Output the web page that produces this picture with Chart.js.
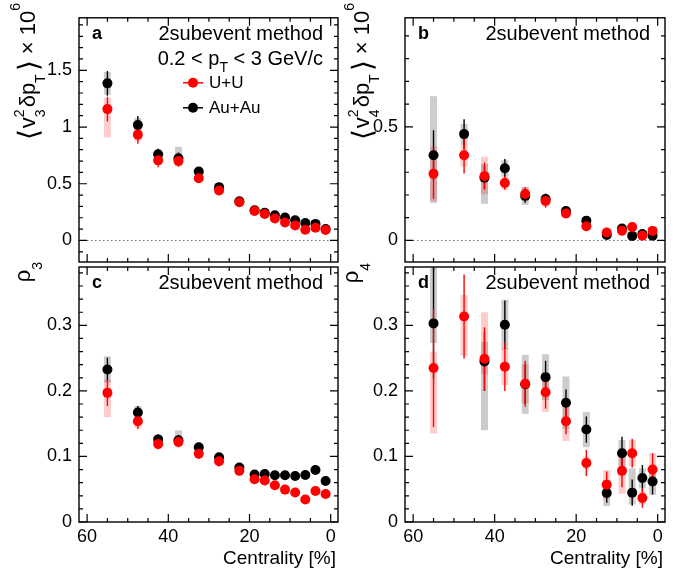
<!DOCTYPE html>
<html>
<head>
<meta charset="utf-8">
<script src="https://cdn.jsdelivr.net/npm/chart.js@4/dist/chart.umd.min.js"></script>
<style>
  html, body { margin: 0; padding: 0; background: #fff; }
  #wrap { position: relative; width: 691px; height: 571px; }
  #wrap canvas { position: absolute; left: 0; top: 0; }
</style>
</head>
<body>
<div id="wrap">
  <canvas id="pa" width="691" height="571"></canvas>
  <canvas id="pb" width="691" height="571"></canvas>
  <canvas id="pc" width="691" height="571"></canvas>
  <canvas id="pd" width="691" height="571"></canvas>
</div>
<script>
// centrality bin centres [%]
const cent15 = [55, 47.5, 42.5, 37.5, 32.5, 27.5, 22.5, 18.75, 16.25, 13.75, 11.25, 8.75, 6.25, 3.75, 1.25];
const cent13 = [55, 47.5, 42.5, 37.5, 32.5, 27.5, 22.5, 17.5, 12.5, 8.75, 6.25, 3.75, 1.25];
const xTickLabels = [0, 20, 40, 60];

// (a) <v3^2 dpT> x 10^6
const uuA = [1.158, 0.933, 0.706, 0.700, 0.548, 0.441, 0.337, 0.259, 0.233, 0.194, 0.158, 0.132, 0.095, 0.112, 0.093];
const uuStatA = [0.11, 0.08, 0.06, 0.05, 0.04, 0.04, 0.03, 0.02, 0.02, 0.02, 0.02, 0.02, 0.02, 0.02, 0.02];
const uuSysA = [[0.25, 0.1], 0.06, 0.04, 0.04, 0.03, 0.03, 0.02, 0.015, 0.015, 0.015, 0.015, 0.015, 0.015, 0.015, 0.015];
const auA = [1.385, 1.018, 0.759, 0.725, 0.607, 0.470, 0.346, 0.267, 0.245, 0.222, 0.202, 0.177, 0.154, 0.146, 0.100];
const auStatA = [0.11, 0.08, 0.05, 0.05, 0.04, 0.03, 0.02, 0.02, 0.02, 0.015, 0.015, 0.015, 0.015, 0.015, 0.015];
const auSysA = [0.1, 0.06, 0.04, [0.07, 0.1], 0.03, 0.03, 0.02, 0.015, 0.015, 0.015, 0.015, 0.015, 0.015, 0.015, 0.015];
const yTicksA = [0, 0.5, 1, 1.5];

// (b) <v4^2 dpT> x 10^6
const uuB = [0.293, 0.375, 0.283, 0.253, 0.204, 0.174, 0.119, 0.062, 0.035, 0.043, 0.059, 0.021, 0.042];
const uuStatB = [0.11, 0.08, 0.06, 0.03, 0.03, 0.03, 0.02, 0.015, 0.015, 0.015, 0.015, 0.01, 0.01];
const uuSysB = [0.12, 0.05, [0.08, 0.085], 0.03, 0.03, 0.025, 0.02, 0.015, 0.015, 0.01, 0.01, 0.01, 0.01];
const auB = [0.375, 0.468, 0.276, 0.318, 0.196, 0.182, 0.129, 0.087, 0.024, 0.052, 0.020, 0.028, 0.021];
const auStatB = [0.11, 0.065, 0.05, 0.04, 0.03, 0.025, 0.02, 0.015, 0.01, 0.01, 0.01, 0.01, 0.01];
const auSysB = [[0.21, 0.26], 0.045, [0.115, 0.06], 0.035, 0.04, 0.02, 0.02, 0.01, 0.01, 0.01, 0.01, 0.01, 0.01];
const yTicksB = [0, 0.5];

// (c) rho3
const uuC = [0.197, 0.1537, 0.119, 0.122, 0.104, 0.0927, 0.078, 0.0652, 0.0632, 0.056, 0.0494, 0.0449, 0.0342, 0.0473, 0.0428];
const uuStatC = [0.02, 0.012, 0.008, 0.008, 0.008, 0.008, 0.006, 0.005, 0.005, 0.005, 0.005, 0.005, 0.005, 0.005, 0.005];
const uuSysC = [[0.037, 0.02], 0.01, 0.008, 0.008, 0.006, 0.006, 0.005, 0.005, 0.005, 0.005, 0.005, 0.005, 0.005, 0.005, 0.005];
const auC = [0.2327, 0.167, 0.126, 0.1247, 0.114, 0.0988, 0.083, 0.0723, 0.0733, 0.0713, 0.0713, 0.0703, 0.0718, 0.0794, 0.0626];
const auStatC = [0.018, 0.01, 0.008, 0.008, 0.007, 0.006, 0.005, 0.005, 0.005, 0.005, 0.005, 0.005, 0.005, 0.005, 0.005];
const auSysC = [0.02, 0.01, 0.006, [0.006, 0.015], 0.005, 0.005, 0.004, 0.004, 0.004, 0.004, 0.004, 0.004, 0.004, 0.006, 0.004];
const yTicksCD = [0, 0.1, 0.2, 0.3];

// (d) rho4
const uuD = [0.235, 0.3135, 0.249, 0.237, 0.211, 0.198, 0.1537, 0.090, 0.057, 0.078, 0.105, 0.0367, 0.080];
const uuStatD = [0.09, 0.064, 0.048, 0.037, 0.035, 0.025, 0.02, 0.02, 0.02, 0.025, 0.022, 0.015, 0.025];
const uuSysD = [[0.1, 0.025], [0.06, 0.033], [0.024, 0.071], 0.028, 0.03, 0.03, 0.03, 0.01, 0.022, 0.035, 0.02, 0.01, 0.025];
const auD = [0.303, null, 0.245, 0.301, 0.210, 0.221, 0.182, 0.141, 0.0443, 0.105, 0.0448, 0.067, 0.0617];
const auStatD = [0.085, null, 0.045, 0.037, 0.03, 0.025, 0.02, 0.02, 0.015, 0.025, 0.02, 0.02, 0.02];
const auSysD = [[0.03, 0.1], null, [0.105, 0.03], 0.038, 0.045, 0.035, 0.04, 0.027, 0.02, 0.02, [0.018, 0.037], 0.015, 0.02];

const FONT = '"Liberation Sans", Arial, Helvetica, sans-serif';
const RED = '#ff0000';
const BLACK = '#000000';
const MARKER_R = 5;
const Y_AXIS_W = 60;
const X_AXIS_H = 40;

const pair = (e) => (Array.isArray(e) ? e : [e, e]);

// draws a run of text pieces (sub/superscripts) along a baseline; rot = -90 for axis titles
function richText(ctx, pieces, x, y, align, rot) {
  ctx.save();
  let total = 0;
  let held = 0;
  pieces.forEach((p) => {
    ctx.font = p.s + 'px ' + FONT;
    const w = ctx.measureText(p.t).width + (p.gap || 0);
    if (p.stack) { held = w; return; }
    total += Math.max(w, held);
    held = 0;
  });
  ctx.translate(x, y);
  if (rot) ctx.rotate((rot * Math.PI) / 180);
  let cx = align === 'right' ? -total : 0;
  held = 0;
  ctx.textBaseline = 'alphabetic';
  ctx.textAlign = 'left';
  ctx.fillStyle = '#000';
  pieces.forEach((p) => {
    ctx.font = p.s + 'px ' + FONT;
    const w = ctx.measureText(p.t).width + (p.gap || 0);
    ctx.fillText(p.t, cx, p.dy || 0);
    if (p.stack) { held = w; return; }
    cx += Math.max(w, held);
    held = 0;
  });
  ctx.restore();
}

// systematic boxes and statistical bars, drawn under the markers
const errorBars = {
  id: 'errorBars',
  beforeDatasetsDraw(chart) {
    const { ctx, chartArea: a, scales: { x, y } } = chart;
    ctx.save();
    ctx.beginPath();
    ctx.rect(a.left, a.top, a.right - a.left, a.bottom - a.top);
    ctx.clip();
    for (let i = chart.data.datasets.length - 1; i >= 0; i--) {
      const ds = chart.data.datasets[i];
      ds.data.forEach((p, j) => {
        if (p.y == null) return;
        const px = x.getPixelForValue(p.x);
        const [lo, hi] = pair(ds.sys[j]);
        const yTop = y.getPixelForValue(p.y + hi);
        const yBot = y.getPixelForValue(p.y - lo);
        ctx.fillStyle = ds.sysColor;
        ctx.fillRect(px - 3.5, yTop, 7, yBot - yTop);
        const st = ds.stat[j];
        ctx.strokeStyle = ds.backgroundColor;
        ctx.lineWidth = 1.4;
        ctx.beginPath();
        ctx.moveTo(px, y.getPixelForValue(p.y + st));
        ctx.lineTo(px, y.getPixelForValue(p.y - st));
        ctx.stroke();
      });
    }
    ctx.restore();
  },
};

// ROOT-style frame with inward ticks, panel labels, legend and axis titles
const frame = {
  id: 'frame',
  beforeDatasetsDraw(chart, args, o) {
    const { ctx, chartArea: a, scales: { y } } = chart;
    if (!o.zeroLine) return;
    ctx.save();
    ctx.strokeStyle = '#777';
    ctx.lineWidth = 1;
    ctx.setLineDash([1.5, 2.5]);
    ctx.beginPath();
    const y0 = Math.round(y.getPixelForValue(0)) + 0.5;
    ctx.moveTo(a.left, y0);
    ctx.lineTo(a.right, y0);
    ctx.stroke();
    ctx.restore();
  },
  afterDraw(chart, args, o) {
    const { ctx, chartArea: a, scales: { x, y } } = chart;
    ctx.save();
    ctx.strokeStyle = '#000';
    ctx.lineWidth = 1.4;
    ctx.strokeRect(a.left, a.top, a.right - a.left, a.bottom - a.top);
    ctx.lineWidth = 1.2;
    ctx.beginPath();
    for (let k = Math.ceil(y.min / o.yMinor); k * o.yMinor <= y.max; k++) {
      const v = k * o.yMinor;
      const major = Math.abs(v / o.yMajor - Math.round(v / o.yMajor)) < 1e-6;
      const len = major ? 8 : 4;
      const py = y.getPixelForValue(v);
      ctx.moveTo(a.left, py); ctx.lineTo(a.left + len, py);
      ctx.moveTo(a.right, py); ctx.lineTo(a.right - len, py);
    }
    for (let k = 0; k * 5 <= x.max; k++) {
      const v = k * 5;
      const len = v % 20 === 0 ? 8 : 4;
      const px = x.getPixelForValue(v);
      ctx.moveTo(px, a.bottom); ctx.lineTo(px, a.bottom - len);
      ctx.moveTo(px, a.top); ctx.lineTo(px, a.top + len);
    }
    ctx.stroke();

    ctx.fillStyle = '#000';
    ctx.textBaseline = 'alphabetic';
    ctx.font = 'bold 18px ' + FONT;
    ctx.textAlign = 'left';
    ctx.fillText(o.letter, a.left + 13, a.top + 21);
    ctx.font = '20px ' + FONT;
    ctx.textAlign = 'right';
    ctx.fillText('2subevent method', a.right - 15, a.top + 22);

    if (o.ptCut) {
      richText(ctx, [
        { t: '0.2 < p', s: 20 },
        { t: 'T', s: 14, dy: 7 },
        { t: ' < 3 GeV/c', s: 20 },
      ], a.right - 15, a.top + 47, 'right');
    }

    if (o.legend) {
      chart.data.datasets.forEach((ds, i) => {
        const ly = a.top + 65 + i * 25;
        const lx = a.left + 114;
        ctx.strokeStyle = ds.backgroundColor;
        ctx.lineWidth = 1.5;
        ctx.beginPath();
        ctx.moveTo(lx - 10, ly); ctx.lineTo(lx + 10, ly);
        ctx.stroke();
        ctx.fillStyle = ds.backgroundColor;
        ctx.beginPath();
        ctx.arc(lx, ly, MARKER_R, 0, Math.PI * 2);
        ctx.fill();
        ctx.fillStyle = '#000';
        ctx.font = '17px ' + FONT;
        ctx.textAlign = 'left';
        ctx.textBaseline = 'middle';
        ctx.fillText(ds.label, lx + 16, ly + 1);
      });
    }

    if (o.title) richText(ctx, o.title, o.titleX, o.titleEnd, 'right', -90);

    if (o.xTitle) {
      ctx.fillStyle = '#000';
      ctx.font = '19px ' + FONT;
      ctx.textAlign = 'right';
      ctx.textBaseline = 'alphabetic';
      ctx.fillText('Centrality [%]', a.right - 2, 564);
    }
    ctx.restore();
  },
};

const vTitle = (n) => [
  { t: '\u27E8', s: 28, dy: 3, gap: 1 },
  { t: 'v', s: 22 },
  { t: '2', s: 14, dy: -11, stack: true },
  { t: n, s: 14, dy: 10, gap: 2 },
  { t: '\u03B4p', s: 22 },
  { t: 'T', s: 14, dy: 10, gap: 3 },
  { t: '\u27E9', s: 28, dy: 3 },
  { t: ' \u00D7 10', s: 22 },
  { t: '6', s: 14, dy: -15 },
];
const rhoTitle = (n) => [
  { t: '\u03C1', s: 22 },
  { t: n, s: 14, dy: 12 },
];

const panels = [
  { id: 'pa', box: [79, 6, 338, 262], cent: cent15, uu: [uuA, uuStatA, uuSysA], au: [auA, auStatA, auSysA],
    yMin: -0.19, yMax: 1.963, yTicks: yTicksA, yMinor: 0.1, yMajor: 0.5, letter: 'a', zeroLine: true,
    ptCut: true, legend: true, title: vTitle('3'), titleX: 35, titleEnd: 3, xLabels: false },
  { id: 'pb', box: [405, 6, 665, 262], cent: cent13, uu: [uuB, uuStatB, uuSysB], au: [auB, auStatB, auSysB],
    yMin: -0.095, yMax: 0.98, yTicks: yTicksB, yMinor: 0.1, yMajor: 0.5, letter: 'b', zeroLine: true,
    title: vTitle('4'), titleX: 369, titleEnd: 3, xLabels: false },
  { id: 'pc', box: [79, 267, 338, 522], cent: cent15, uu: [uuC, uuStatC, uuSysC], au: [auC, auStatC, auSysC],
    yMin: 0, yMax: 0.389, yTicks: yTicksCD, yMinor: 0.02, yMajor: 0.1, letter: 'c',
    title: rhoTitle('3'), titleX: 30, titleEnd: 262, xLabels: true, xTitle: true },
  { id: 'pd', box: [405, 267, 665, 522], cent: cent13, uu: [uuD, uuStatD, uuSysD], au: [auD, auStatD, auSysD],
    yMin: 0, yMax: 0.389, yTicks: yTicksCD, yMinor: 0.02, yMajor: 0.1, letter: 'd',
    title: rhoTitle('4'), titleX: 358, titleEnd: 263, xLabels: true, xTitle: true },
];

const toPoints = (cent, vals) => cent.map((c, i) => ({ x: c, y: vals[i] }));

panels.forEach((p) => {
  const [l, t, r, b] = p.box;
  const xh = p.xLabels ? X_AXIS_H : 0;
  new Chart(document.getElementById(p.id), {
    type: 'scatter',
    data: {
      datasets: [
        {
          label: 'U+U',
          data: toPoints(p.cent, p.uu[0]),
          stat: p.uu[1],
          sys: p.uu[2],
          sysColor: 'rgba(255, 0, 0, 0.2)',
          backgroundColor: RED,
          pointRadius: MARKER_R,
          pointBorderWidth: 0,
        },
        {
          label: 'Au+Au',
          data: toPoints(p.cent, p.au[0]),
          stat: p.au[1],
          sys: p.au[2],
          sysColor: 'rgba(0, 0, 0, 0.2)',
          backgroundColor: BLACK,
          pointRadius: MARKER_R,
          pointBorderWidth: 0,
        },
      ],
    },
    options: {
      responsive: false,
      animation: false,
      devicePixelRatio: 1,
      layout: { padding: { left: l - Y_AXIS_W, top: t, right: 691 - r, bottom: 571 - b - xh } },
      scales: {
        x: {
          type: 'linear',
          reverse: true,
          min: -1.8,
          max: 62,
          grid: { display: false, drawTicks: false },
          border: { display: false },
          afterBuildTicks: (s) => { s.ticks = xTickLabels.map((v) => ({ value: v })); },
          afterFit: (s) => { s.height = xh; },
          ticks: {
            display: p.xLabels,
            padding: 4,
            color: '#000',
            maxRotation: 0,
            font: { family: FONT, size: 18 },
          },
        },
        y: {
          min: p.yMin,
          max: p.yMax,
          grid: { display: false, drawTicks: false },
          border: { display: false },
          afterBuildTicks: (s) => { s.ticks = p.yTicks.map((v) => ({ value: v })); },
          afterFit: (s) => { s.width = Y_AXIS_W; },
          ticks: {
            padding: 7,
            color: '#000',
            font: { family: FONT, size: 18 },
            callback: (v) => String(v),
          },
        },
      },
      plugins: {
        legend: { display: false },
        tooltip: { enabled: false },
        frame: p,
      },
    },
    plugins: [errorBars, frame],
  });
});
</script>
</body>
</html>
